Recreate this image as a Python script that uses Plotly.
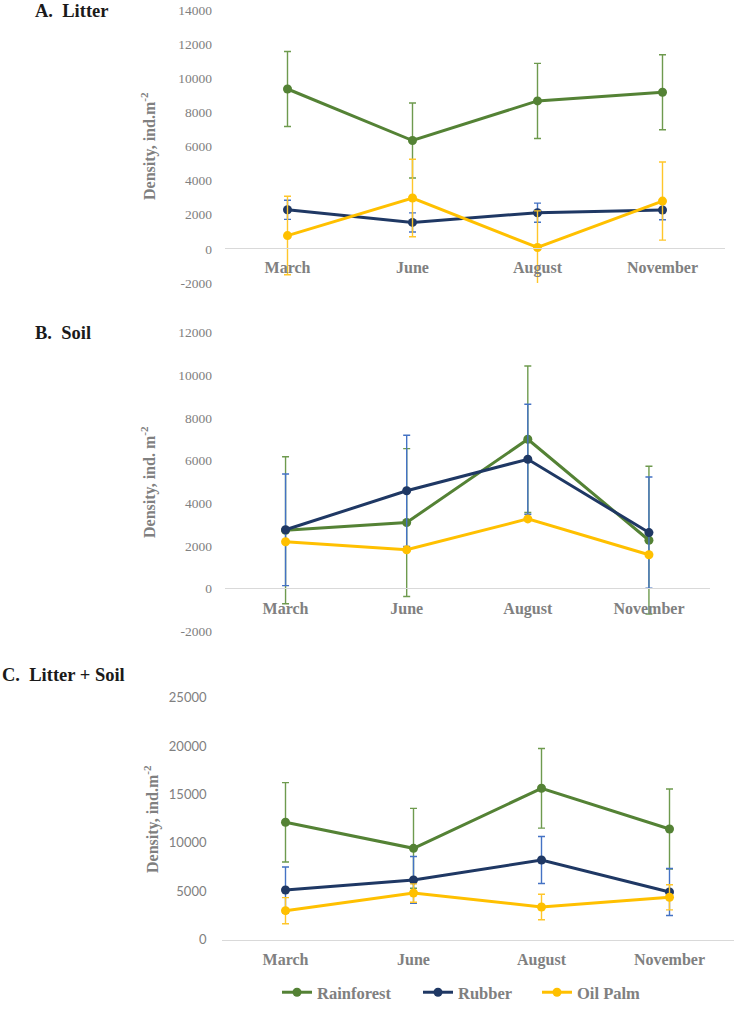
import plotly.graph_objects as go

months = ["March", "June", "August", "November"]
series_names = ["Rainforest", "Rubber", "Oil Palm"]

# Panel A: Litter
litter_rainforest = [9370, 6350, 8670, 9180]
litter_rainforest_err = [2200, 2200, 2200, 2200]
litter_rubber = [2290, 1550, 2120, 2280]
litter_rubber_err = [560, 560, 560, 570]
litter_oilpalm = [780, 2980, 80, 2800]
litter_oilpalm_err = [2300, 2270, 2150, 2290]

# Panel B: Soil
soil_rainforest = [2730, 3090, 7000, 2260]
soil_rainforest_err = [3450, 3470, 3440, 3470]
soil_rubber = [2750, 4580, 6060, 2620]
soil_rubber_err = [2620, 2610, 2580, 2610]
soil_oilpalm = [2190, 1810, 3260, 1580]

# Panel C: Litter + Soil
total_rainforest = [12130, 9440, 15640, 11440]
total_rainforest_err = [4100, 4130, 4110, 4130]
total_rubber = [5130, 6170, 8230, 4930]
total_rubber_err = [2380, 2420, 2430, 2430]
total_oilpalm = [3000, 4820, 3380, 4380]
total_oilpalm_err = [1350, 950, 1320, 1300]

ytick_A = [-2000, 0, 2000, 4000, 6000, 8000, 10000, 12000, 14000]
ytick_B = [-2000, 0, 2000, 4000, 6000, 8000, 10000, 12000]
ytick_C = [0, 5000, 10000, 15000, 20000, 25000]

line_colors = {"Rainforest": "#548235", "Rubber": "#1F3864", "Oil Palm": "#FFC000"}
err_colors = {"Rainforest": "#6E9A4E", "Rubber": "#4472C4", "Oil Palm": "#FFC62A"}

W, H = 734, 1010
SERIF = "Liberation Serif"
GRAY = "#808080"


def py(px):
    return 1 - px / H


def pxx(px):
    return px / W


fig = go.Figure()

panels = [
    ("x", "y", [(litter_rainforest, litter_rainforest_err), (litter_rubber, litter_rubber_err), (litter_oilpalm, litter_oilpalm_err)]),
    ("x2", "y2", [(soil_rainforest, soil_rainforest_err), (soil_rubber, soil_rubber_err), (soil_oilpalm, None)]),
    ("x3", "y3", [(total_rainforest, total_rainforest_err), (total_rubber, total_rubber_err), (total_oilpalm, total_oilpalm_err)]),
]
legend_ids = {"Rainforest": "legend", "Rubber": "legend2", "Oil Palm": "legend3"}

for pi, (xa, ya, data) in enumerate(panels):
    for name, (vals, errs) in zip(series_names, data):
        kw = {}
        if errs is not None:
            kw["error_y"] = dict(type="data", array=errs, visible=True,
                                 color=err_colors[name], thickness=1.4, width=3.5)
        fig.add_trace(go.Scatter(
            x=months, y=vals, xaxis=xa, yaxis=ya, name=name,
            mode="lines+markers",
            line=dict(color=line_colors[name], width=3),
            marker=dict(color=line_colors[name], size=9),
            showlegend=(pi == 2), legend=legend_ids[name],
            **kw))

common_x = dict(type="category", range=[-0.5, 3.5], showgrid=False, zeroline=False,
                showline=True, linecolor="#D9D9D9", linewidth=1,
                ticks="outside", ticklen=5, tickcolor="rgba(0,0,0,0)",
                tickfont=dict(family=SERIF, size=16, color=GRAY, weight="bold"))
common_y = dict(showgrid=False, zeroline=False, showline=False, ticks="",
                ticklabelstandoff=12)

legend_common = dict(orientation="h", xanchor="left", y=0, yanchor="bottom",
                     font=dict(family=SERIF, size=16.5, color=GRAY, weight="bold"),
                     itemwidth=30, bgcolor="rgba(0,0,0,0)")

fig.update_layout(
    width=W, height=H, autosize=False, margin=dict(l=0, r=0, t=0, b=0, autoexpand=False),
    paper_bgcolor="white", plot_bgcolor="white",
    xaxis=dict(common_x, domain=[pxx(225), pxx(725)], anchor="free", position=py(248)),
    yaxis=dict(common_y, domain=[py(283), py(10)], range=[-2000, 14000], anchor="x",
               tickvals=ytick_A, ticktext=[str(v) for v in ytick_A],
               tickfont=dict(family=SERIF, size=13.5, color=GRAY)),
    xaxis2=dict(common_x, domain=[pxx(225), pxx(709.5)], anchor="free", position=py(588.3)),
    yaxis2=dict(common_y, domain=[py(631), py(332.7)], range=[-2000, 12000], anchor="x2",
                tickvals=ytick_B, ticktext=[str(v) for v in ytick_B],
                tickfont=dict(family=SERIF, size=13.5, color=GRAY)),
    xaxis3=dict(common_x, domain=[pxx(221.5), pxx(733.5)], anchor="y3"),
    yaxis3=dict(common_y, domain=[py(939.7), py(697.7)], range=[0, 25000], anchor="x3",
                tickvals=ytick_C, ticktext=[str(v) for v in ytick_C], ticklabelstandoff=14,
                tickfont=dict(family="Lato", size=13, color=GRAY)),
    legend=dict(legend_common, x=pxx(277)),
    legend2=dict(legend_common, x=pxx(418)),
    legend3=dict(legend_common, x=pxx(537)),
)

annotations = [
    dict(text="A.  Litter", x=pxx(33), y=py(11), xanchor="left", yanchor="middle"),
    dict(text="B.  Soil", x=pxx(33), y=py(333), xanchor="left", yanchor="middle"),
    dict(text="C.  Litter + Soil", x=pxx(0), y=py(675), xanchor="left", yanchor="middle"),
]
for a in annotations:
    fig.add_annotation(xref="paper", yref="paper", showarrow=False,
                       font=dict(family=SERIF, size=18.5, color="#1A1A1A", weight="bold"), **a)

ytitles = [
    ("Density, ind.m<sup>-2</sup>", 148, 146),
    ("Density, ind. m<sup>-2</sup>", 148, 482),
    ("Density, ind.m<sup>-2</sup>", 151, 819),
]
for t, x, y in ytitles:
    fig.add_annotation(text=t, xref="paper", yref="paper", x=pxx(x), y=py(y),
                       xanchor="center", yanchor="middle", textangle=-90, showarrow=False,
                       font=dict(family=SERIF, size=16, color=GRAY, weight="bold"))

fig.write_html(
    "out.html",
    config={"responsive": False, "displayModeBar": False},
    post_script="document.body.style.margin='0';document.body.style.overflow='hidden';"
                "Plotly.relayout(document.getElementById('{plot_id}'), {width: 734, height: 1010});",
)
